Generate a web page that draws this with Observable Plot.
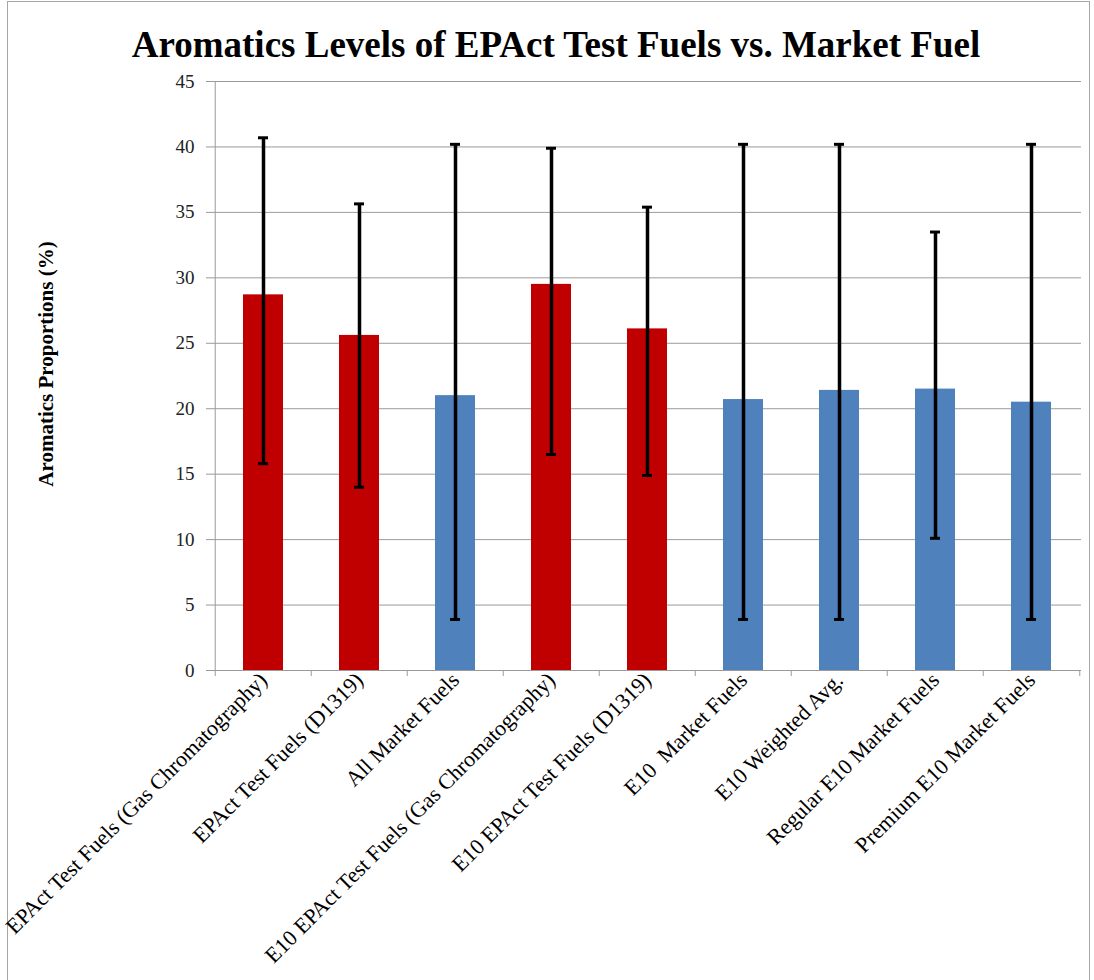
<!DOCTYPE html>
<html>
<head>
<meta charset="utf-8">
<script src="https://cdn.jsdelivr.net/npm/d3@7"></script>
<script src="https://cdn.jsdelivr.net/npm/@observablehq/plot@0.6"></script>
<style>
  html, body { margin: 0; padding: 0; background: #fff; }
  body { width: 1094px; height: 980px; position: relative; overflow: hidden; font-family: "Liberation Serif", serif; }
  #frame { position: absolute; left: 7px; top: 1px; width: 1083px; height: 1000px; border: 1px solid #a6a6a6; box-sizing: border-box; }
  #title { position: absolute; left: 0; top: 26px; width: 1112px; text-align: center; font: bold 37px/1 "Liberation Serif", serif; color: #000; white-space: nowrap; }
  #chart { position: absolute; left: 0; top: 70px; }
</style>
</head>
<body>
<div id="frame"></div>
<div id="title">Aromatics Levels of EPAct Test Fuels vs. Market Fuel</div>
<div id="chart"></div>
<script>
const categories = [
  "EPAct Test Fuels (Gas Chromatography)",
  "EPAct Test Fuels (D1319)",
  "All Market Fuels",
  "E10 EPAct Test Fuels (Gas Chromatography)",
  "E10 EPAct Test Fuels (D1319)",
  "E10  Market Fuels",
  "E10 Weighted Avg.",
  "Regular E10 Market Fuels",
  "Premium E10 Market Fuels"
];
const groups = ["Test", "Test", "Market", "Test", "Test", "Market", "Market", "Market", "Market"];
const values = [28.7, 25.6, 21.0, 29.5, 26.1, 20.7, 21.4, 21.5, 20.5];
const errLow = [15.8, 14.0, 3.9, 16.5, 14.9, 3.9, 3.9, 10.1, 3.9];
const errHigh = [40.7, 35.65, 40.2, 39.9, 35.4, 40.2, 40.2, 33.5, 40.2];
const yTicks = [0, 5, 10, 15, 20, 25, 30, 35, 40, 45];
const yLabel = "Aromatics Proportions (%)";

const data = categories.map((c, i) => ({name: c, group: groups[i], value: values[i], lo: errLow[i], hi: errHigh[i]}));

const W = 1094, H = 910;
const mL = 212, mR = 13, mT = 11, mB = 310;
const step = (W - mL - mR) / categories.length;
const grid = "#9a9a9a";
const font = "Liberation Serif";

const chart = Plot.plot({
  width: W,
  height: H,
  marginLeft: mL,
  marginRight: mR,
  marginTop: mT,
  marginBottom: mB,
  style: {fontFamily: font, background: "transparent", overflow: "visible"},
  x: {domain: categories, paddingInner: 0.585, paddingOuter: 0.2925, label: null},
  y: {domain: [0, 45], label: null},
  color: {domain: ["Test", "Market"], range: ["#C00000", "#4F81BD"]},
  marks: [
    Plot.gridY(yTicks.filter(d => d > 0), {stroke: grid, strokeOpacity: 1, strokeWidth: 1}),
    Plot.axisY(yTicks, {tickSize: 6, tickPadding: 12, stroke: grid, fontSize: 19, fontFamily: font, fill: "#222", label: null}),
    Plot.axisX({tickSize: 0, tickPadding: 6, tickRotate: -45, fontSize: 22, fontFamily: font, fill: "#000", label: null}),
    Plot.barY(data, {x: "name", y: "value", fill: "group"}),
    Plot.ruleY([0], {stroke: grid, strokeWidth: 1}),
    Plot.ruleX([categories[0]], {dx: -step / 2, y1: 0, y2: 45, stroke: grid, strokeWidth: 1}),
    Plot.ruleX(categories, {x: d => d, dx: -step / 2, y1: 0, y2: 0, insetBottom: -6, stroke: grid}),
    Plot.ruleX([categories[categories.length - 1]], {dx: step / 2, y1: 0, y2: 0, insetBottom: -6, stroke: grid}),
    Plot.ruleX(data, {x: "name", y1: "lo", y2: "hi", stroke: "#000", strokeWidth: 3.5}),
    Plot.tickY(data, {x: "name", y: "hi", stroke: "#000", strokeWidth: 3, insetLeft: 15, insetRight: 15}),
    Plot.tickY(data, {x: "name", y: "lo", stroke: "#000", strokeWidth: 3, insetLeft: 15, insetRight: 15}),
    Plot.text([yLabel], {frameAnchor: "left", text: d => d, rotate: -90, textAnchor: "middle", dx: -166, dy: -12, fontSize: 21, fontWeight: "bold", fontFamily: font, fill: "#000"})
  ]
});
document.getElementById("chart").appendChild(chart);
</script>
</body>
</html>
